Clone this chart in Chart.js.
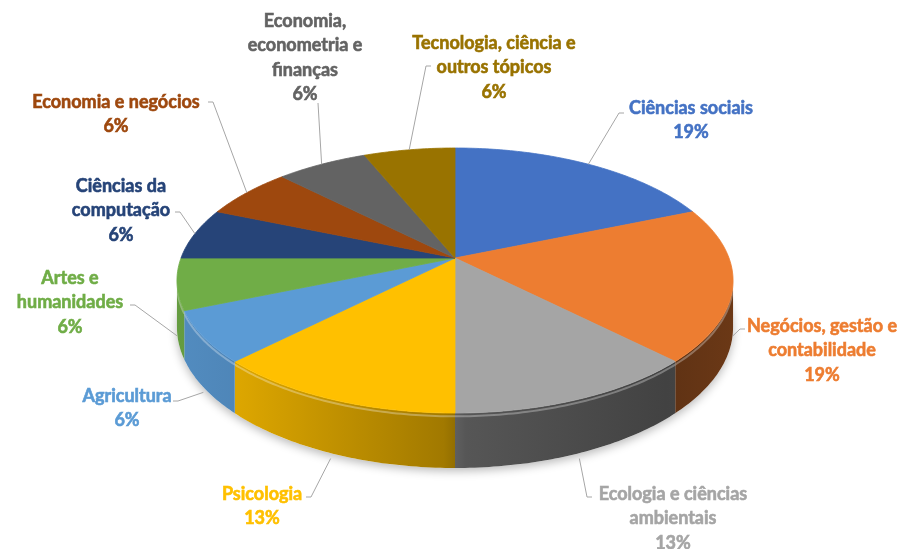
<!DOCTYPE html>
<html>
<head>
<meta charset="utf-8">
<script src="https://cdn.jsdelivr.net/npm/chart.js@4.4.1/dist/chart.umd.min.js"></script>
<style>
  html, body { margin: 0; background: #fff; }
  canvas { display: block; }
</style>
</head>
<body>
<canvas id="chart" width="903" height="549"></canvas>
<script>
(function () {
    "use strict";

    // Data
    const categories = [
        "Ciências sociais",
        ["Negócios, gestão e", "contabilidade"],
        ["Ecologia e ciências", "ambientais"],
        "Psicologia",
        "Agricultura",
        ["Artes e", "humanidades"],
        ["Ciências da", "computação"],
        "Economia e negócios",
        ["Economia,", "econometria e", "finanças"],
        ["Tecnologia, ciência e", "outros tópicos"],
    ];
    const counts = [3, 3, 2, 2, 1, 1, 1, 1, 1, 1];
    const colors = [
        "#4472C4", "#ED7D31", "#A5A5A5", "#FFC000", "#5B9BD5",
        "#70AD47", "#264478", "#9E480E", "#636363", "#997300",
    ];

    // label layout: text centre (first line), leader start, tick direction
    const labelLayout = [
        { x: 691, y: 108, ax: 624, ay: 113, tick: -5 },
        { x: 822, y: 326, ax: 745, ay: 329, tick: -5 },
        { x: 673, y: 494, ax: 592, ay: 497, tick: -5 },
        { x: 262, y: 494, ax: 306, ay: 497, tick: 5 },
        { x: 127, y: 396, ax: 173, ay: 401, tick: 5 },
        { x: 70, y: 278, ax: 130, ay: 305, tick: 5 },
        { x: 121, y: 186, ax: 175, ay: 212, tick: 5 },
        { x: 116, y: 102, ax: 208, ay: 102, tick: 5 },
        { x: 305, y: 21, ax: 318, ay: 103, tick: 0 },
        { x: 494, y: 43, ax: 431, ay: 66, tick: -5 },
    ];

    // perspective of the 3D disc
    const TILT = 0.17;
    const SX = 1.062;
    const SY = 0.4988;
    const DEPTH = 0.1767;
    const LINE_H = 24.5;

    function rgb(hex) {
        const n = parseInt(hex.slice(1), 16);
        return [(n >> 16) & 255, (n >> 8) & 255, n & 255];
    }
    function shade(hex, f) {
        const c = rgb(hex).map((v) => Math.max(0, Math.min(255, Math.round(v * f))));
        return "rgb(" + c.join(",") + ")";
    }

    function project(arc, a, drop) {
        const r = arc.outerRadius;
        const u = Math.cos(a);
        const v = Math.sin(a);
        const d = 1 - TILT * v;
        return {
            x: arc.x + (SX * r * u) / d,
            y: arc.y + (SY * r * v) / d + (drop * DEPTH * r) / d,
        };
    }

    function rim(arc, s, e, drop) {
        const n = Math.max(2, Math.ceil((e - s) / 0.015));
        const pts = [];
        for (let i = 0; i <= n; i++) {
            pts.push(project(arc, s + ((e - s) * i) / n, drop));
        }
        return pts;
    }

    const pie3d = {
        id: "pie3d",
        beforeDatasetsDraw(chart) {
            const ctx = chart.ctx;
            const arcs = chart.getDatasetMeta(0).data;
            const a0 = Math.asin(TILT);
            const a1 = Math.PI - a0;
            const ref = arcs[0];
            const xl = project(ref, Math.PI - a0, 0).x;
            const xr = project(ref, a0, 0).x;

            // soft shadow under the disc
            ctx.save();
            ctx.shadowColor = "rgba(0,0,0,0.28)";
            ctx.shadowBlur = 10;
            ctx.shadowOffsetY = 3;
            ctx.fillStyle = "#ffffff";
            ctx.beginPath();
            rim(ref, -Math.PI / 2, (3 * Math.PI) / 2, 1).forEach((p, i) =>
                i ? ctx.lineTo(p.x, p.y) : ctx.moveTo(p.x, p.y)
            );
            ctx.closePath();
            ctx.fill();
            ctx.restore();

            // side walls
            arcs.forEach((arc, i) => {
                const lo = Math.max(arc.startAngle, a0);
                const hi = Math.min(arc.endAngle, a1);
                if (hi <= lo) return;
                const top = rim(arc, lo, hi, 0);
                const bottom = rim(arc, lo, hi, 1).reverse();
                const g = ctx.createLinearGradient(xl, 0, xr, 0);
                g.addColorStop(0, shade(colors[i], 0.9));
                g.addColorStop(0.12, shade(colors[i], 0.86));
                g.addColorStop(0.48, shade(colors[i], 0.63));
                g.addColorStop(0.52, shade(colors[i], 0.52));
                g.addColorStop(0.88, shade(colors[i], 0.4));
                g.addColorStop(1, shade(colors[i], 0.45));
                ctx.fillStyle = g;
                ctx.beginPath();
                top.concat(bottom).forEach((p, k) =>
                    k ? ctx.lineTo(p.x, p.y) : ctx.moveTo(p.x, p.y)
                );
                ctx.closePath();
                ctx.fill();

                // bevel highlight
                ctx.save();
                ctx.strokeStyle = "rgba(255,255,255,0.3)";
                ctx.lineWidth = 2;
                ctx.beginPath();
                rim(arc, lo, hi, 0.06).forEach((p, k) =>
                    k ? ctx.lineTo(p.x, p.y) : ctx.moveTo(p.x, p.y)
                );
                ctx.stroke();
                ctx.restore();
            });

            // top faces
            arcs.forEach((arc, i) => {
                ctx.fillStyle = colors[i];
                ctx.beginPath();
                ctx.moveTo(arc.x, arc.y);
                rim(arc, arc.startAngle, arc.endAngle, 0).forEach((p) => ctx.lineTo(p.x, p.y));
                ctx.closePath();
                ctx.fill();
                ctx.strokeStyle = colors[i];
                ctx.lineWidth = 0.8;
                ctx.stroke();
            });
            return false;
        },
        afterDraw(chart) {
            const ctx = chart.ctx;
            const arcs = chart.getDatasetMeta(0).data;
            const total = counts.reduce((s, v) => s + v, 0);
            ctx.save();
            arcs.forEach((arc, i) => {
                const L = labelLayout[i];
                const mid = (arc.startAngle + arc.endAngle) / 2;
                const end = project(arc, mid, Math.sin(mid) > 0 ? 1.1 : 0);

                // leader line
                ctx.strokeStyle = "#A6A6A6";
                ctx.lineWidth = 1;
                ctx.beginPath();
                ctx.moveTo(L.ax, L.ay);
                ctx.lineTo(L.ax + L.tick, L.ay);
                ctx.lineTo(end.x, end.y);
                ctx.stroke();

                // text, slightly emboldened
                const lines = [].concat(categories[i]);
                lines.push(Math.round((counts[i] / total) * 100) + "%");
                ctx.fillStyle = colors[i];
                ctx.strokeStyle = colors[i];
                ctx.lineWidth = 0.6;
                ctx.font = "bold 18px Lato";
                ctx.textAlign = "center";
                ctx.textBaseline = "middle";
                lines.forEach((t, k) => {
                    ctx.fillText(t, L.x, L.y + k * LINE_H);
                    ctx.strokeText(t, L.x, L.y + k * LINE_H);
                });
            });
            ctx.restore();
        },
    };

    new Chart(document.getElementById("chart"), {
        type: "pie",
        data: {
            labels: categories,
            datasets: [
                {
                    data: counts,
                    backgroundColor: colors,
                    borderWidth: 0,
                },
            ],
        },
        options: {
            responsive: false,
            animation: false,
            layout: {
                padding: { left: 7, right: 0, top: 0, bottom: 33 },
            },
            plugins: {
                legend: { display: false },
                tooltip: { enabled: false },
            },
        },
        plugins: [pie3d],
    });
})();
</script>
</body>
</html>
